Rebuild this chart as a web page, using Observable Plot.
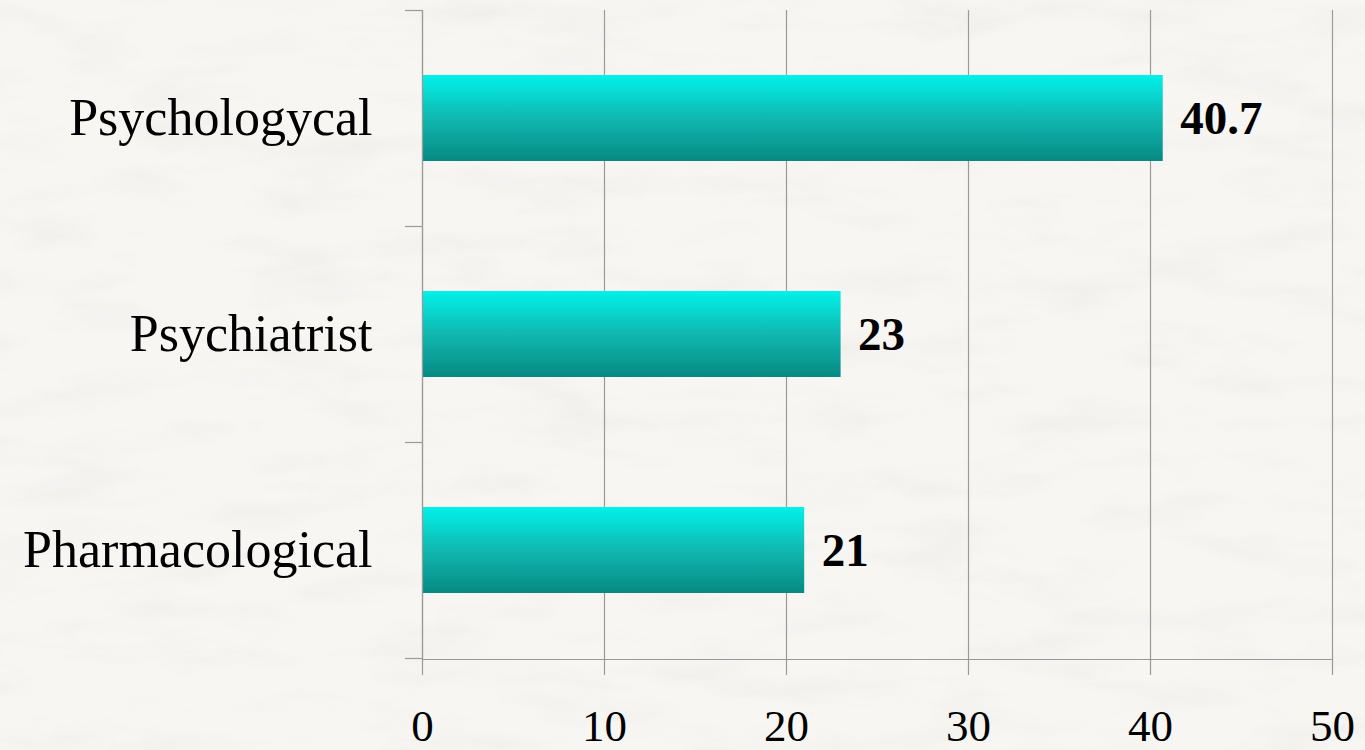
<!DOCTYPE html>
<html>
<head>
<meta charset="utf-8">
<script src="https://cdn.jsdelivr.net/npm/d3@7"></script>
<script src="https://cdn.jsdelivr.net/npm/@observablehq/plot@0.6"></script>
<style>
  html, body { margin: 0; padding: 0; width: 1365px; height: 750px; overflow: hidden; background: #f7f5f2; }
  #bg { position: absolute; left: 0; top: 0; }
  #chart { position: absolute; left: 0; top: 0; }
</style>
</head>
<body>
<svg id="bg" width="1365" height="750">
  <defs>
    <filter id="paper" x="0" y="0" width="100%" height="100%">
      <feTurbulence type="fractalNoise" baseFrequency="0.008 0.03" numOctaves="4" seed="7" result="n"/>
      <feColorMatrix type="matrix" values="0 0 0 0 0.82  0 0 0 0 0.81  0 0 0 0 0.79  0 0 0 -2.4 1.3"/>
    </filter>
  </defs>
  <rect width="1365" height="750" fill="#f8f6f3"/>
  <rect width="1365" height="750" filter="url(#paper)" opacity="0.45"/>
</svg>
<div id="chart"></div>
<script>
const categories = ["Psychologycal", "Psychiatrist", "Pharmacological"];
const values = [40.7, 23, 21];
const valueLabels = ["40.7", "23", "21"];
const xTicks = [0, 10, 20, 30, 40, 50];

const data = categories.map((c, i) => ({category: c, value: values[i], label: valueLabels[i]}));
const font = "'Liberation Serif', 'DejaVu Serif', serif";
const gridColor = "#9a9a9a";

const leftTicks = (index, scales, values, dims) => {
  const y = scales.y;
  const step = y.step ? y.step() : (dims.height - dims.marginTop - dims.marginBottom) / categories.length;
  const [r0] = y.range();
  const g = d3.create("svg:g");
  const x0 = dims.marginLeft;
  for (let k = 0; k <= categories.length; k++) {
    const yy = Math.round(r0 + k * step) + 0.5;
    g.append("line").attr("x1", x0 - 17).attr("x2", x0).attr("y1", yy).attr("y2", yy)
      .attr("stroke", gridColor).attr("stroke-width", 1.2);
  }
  g.append("line").attr("x1", x0 + 0.5).attr("x2", x0 + 0.5)
    .attr("y1", dims.marginTop).attr("y2", dims.height - dims.marginBottom)
    .attr("stroke", gridColor).attr("stroke-width", 1.2);
  return g.node();
};

const chart = Plot.plot({
  width: 1365,
  height: 750,
  marginLeft: 422,
  marginRight: 33,
  marginTop: 10,
  marginBottom: 91,
  style: {background: "transparent", fontFamily: font, color: "#000", overflow: "visible"},
  x: {domain: [0, 50], ticks: xTicks},
  y: {domain: categories, paddingInner: 0.6, paddingOuter: 0.3},
  marks: [
    Plot.ruleX(xTicks, {stroke: gridColor, strokeWidth: 1.2, strokeOpacity: 1}),
    Plot.frame({anchor: "bottom", stroke: gridColor, strokeWidth: 1.2}),
    Plot.axisX({ticks: xTicks, tickSize: 16, tickPadding: 34, fontSize: 45, stroke: gridColor, strokeOpacity: 1, strokeWidth: 1.2, fill: "#000", label: null}),
    Plot.axisY({tickSize: 0, tickPadding: 50, fontSize: 52, fill: "#000", label: null}),
    Plot.barX(data, {x: "value", y: "category", fill: "url(#barGrad)"}),
    Plot.text(data, {x: "value", y: "category", text: "label", textAnchor: "start", dx: 17, fontSize: 47, fontWeight: "bold", fill: "#000"}),
    leftTicks
  ]
});

const defs = d3.select(chart).insert("defs", ":first-child");
const grad = defs.append("linearGradient").attr("id", "barGrad").attr("x1", 0).attr("y1", 0).attr("x2", 0).attr("y2", 1);
grad.append("stop").attr("offset", "0%").attr("stop-color", "#00f2ea");
grad.append("stop").attr("offset", "50%").attr("stop-color", "#10b8b0");
grad.append("stop").attr("offset", "100%").attr("stop-color", "#068a83");

document.getElementById("chart").appendChild(chart);
</script>
</body>
</html>
